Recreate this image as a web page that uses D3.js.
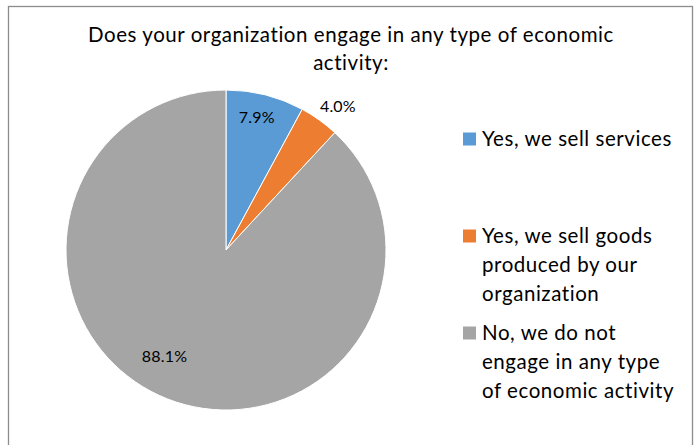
<!DOCTYPE html>
<html>
<head>
<meta charset="utf-8">
<script src="https://cdn.jsdelivr.net/npm/d3@7"></script>
<style>
  html, body { margin: 0; padding: 0; background: #fff; }
  svg { display: block; font-family: Lato, "Open Sans", sans-serif; }
</style>
</head>
<body>
<svg id="chart" width="694" height="445"></svg>
<script>
// Survey answers and their shares (percent)
const categories = [
  "Yes, we sell services",
  "Yes, we sell goods produced by our organization",
  "No, we do not engage in any type of economic activity"
];
const values = [7.9, 4.0, 88.1];
const colors = ["#5B9BD5", "#ED7D31", "#A5A5A5"];
const titleLines = ["Does your organization engage in any type of economic", "activity:"];
// Legend entries wrapped onto lines
const legendLines = [
  ["Yes, we sell services"],
  ["Yes, we sell goods", "produced by our", "organization"],
  ["No, we do not", "engage in any type", "of economic activity"]
];

const svg = d3.select("#chart");
const W = 694, H = 445;

// chart area frame
svg.append("rect")
  .attr("x", 8.5).attr("y", 6.5)
  .attr("width", 684).attr("height", H)
  .attr("fill", "#fff").attr("stroke", "#8c8c8c").attr("stroke-width", 1.3);

// title
svg.append("g").selectAll("text").data(titleLines).join("text")
  .attr("x", 351).attr("y", (d, i) => 42 + i * 27.5)
  .attr("text-anchor", "middle")
  .attr("font-size", 20.5).attr("letter-spacing", 0.55).attr("fill", "#000")
  .text(d => d);

// pie
const cx = 226, cy = 250, R = 160;
const pie = d3.pie().sort(null).value(d => d);
const arcs = pie(values);
const arc = d3.arc().innerRadius(0).outerRadius(R);

const g = svg.append("g").attr("transform", `translate(${cx},${cy})`);
g.selectAll("path").data(arcs).join("path")
  .attr("d", arc)
  .attr("fill", (d, i) => colors[i])
  .attr("stroke", "#fff").attr("stroke-width", 1);

// data labels: radius from centre and angular nudge (radians) per slice
const labelPlacement = [
  { r: 136, shift: -0.02 },
  { r: 182, shift: 0.04 },
  { r: 123, shift: 0.15 }
];
g.selectAll("text.lbl").data(arcs).join("text")
  .attr("class", "lbl")
  .attr("transform", (d, i) => {
    const p = labelPlacement[i];
    const a = (d.startAngle + d.endAngle) / 2 + p.shift;
    return `translate(${p.r * Math.sin(a)},${-p.r * Math.cos(a)})`;
  })
  .attr("text-anchor", "middle").attr("dy", "0.35em")
  .attr("font-size", 16).attr("letter-spacing", 0.2).attr("fill", "#000")
  .text(d => d3.format(".1f")(d.data) + "%");

// legend
const legendTop = [139, 236, 333];
const lg = svg.append("g");
categories.forEach((c, i) => {
  lg.append("rect")
    .attr("x", 463).attr("y", legendTop[i] - 6.5)
    .attr("width", 13).attr("height", 13)
    .attr("fill", colors[i]);
  lg.append("g").selectAll("text").data(legendLines[i]).join("text")
    .attr("x", 482).attr("y", (d, j) => legendTop[i] + j * 28.8)
    .attr("dy", "0.35em")
    .attr("font-size", 20.5).attr("letter-spacing", 0.55).attr("fill", "#000")
    .text(d => d);
});
</script>
</body>
</html>
